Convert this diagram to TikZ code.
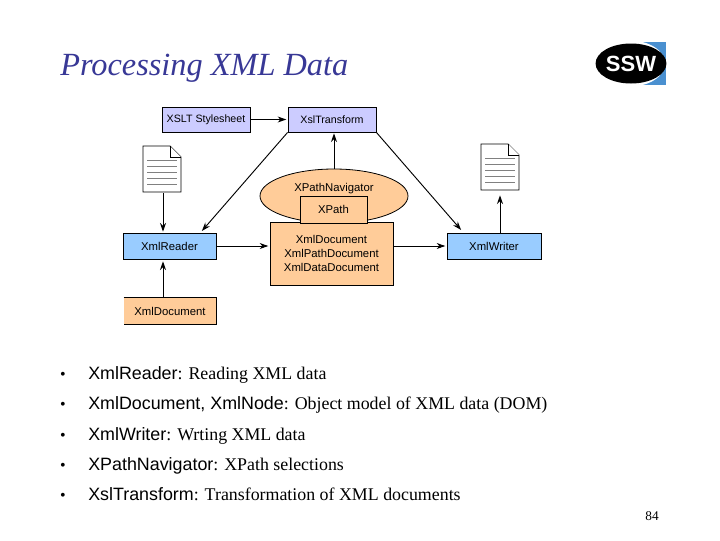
\documentclass[tikz,border=0pt]{standalone}
\usepackage{fontspec}
\setmainfont{Liberation Serif}
\setsansfont{Liberation Sans}
\usetikzlibrary{arrows.meta}
\usetikzlibrary{calc}
\usetikzlibrary{shapes.geometric}
\definecolor{lilac}{RGB}{204,204,255}
\definecolor{skyblue}{RGB}{153,204,255}
\definecolor{peach}{RGB}{255,204,153}
\definecolor{logoblue}{RGB}{74,144,208}
\definecolor{titleblue}{RGB}{56,56,150}
\tikzset{
    box/.style={draw=black, line width=0.6pt, inner sep=0pt, font=\sffamily\fontsize{8.5pt}{10.5pt}\selectfont, align=center},
    topbox/.style={box, fill=lilac, minimum width=66pt, minimum height=18.75pt, font=\sffamily\fontsize{8pt}{10.5pt}\selectfont},
    entry/.style={anchor=base west, inner sep=0pt, font=\fontsize{13.4pt}{16pt}\selectfont},
    bullet/.style={anchor=base, inner sep=0pt, font=\fontsize{12pt}{14pt}\selectfont},
    link/.style={->, line width=0.7pt, shorten >=1pt},
    page/.style={draw=black, fill=white, line width=0.6pt},
    rule/.style={line width=0.5pt, draw=black!50}
}
% sheet with a folded corner, x y are its top left corner
\newcommand{\sheet}[3]{
    \coordinate (#1) at (#2, #3);
    \draw[page] (#1) -- ++(27, 0) -- ++(11, 11) -- ++(0, 35) -- ++(-38, 0) -- cycle;
    \draw[page] ($(#1)+(27, 0)$) -- ++(0, 11) -- ++(11, 0);
    \foreach \y in {14, 20, 26, 32, 38}
        \draw[rule] ($(#1)+(4, \y)$) -- ++(30, 0);
}
\begin{document}
\begin{tikzpicture}[x=0.75pt, y=-0.75pt, >={Stealth[length=6.5pt, width=4.5pt]}]
    \useasboundingbox (0, 0) rectangle (720, 540);

    \node[anchor=base west, inner sep=0pt, text=titleblue, font=\itshape\fontsize{24.25pt}{28pt}\selectfont] (title) at (60, 75) {Processing XML Data};

    % logo
    \fill[logoblue] (640, 42) rectangle (666, 85);
    \fill[white] (630, 63.5) ellipse [x radius=35, y radius=23];
    \node[ellipse, fill=black, minimum width=46.5pt, minimum height=30pt, inner sep=0pt, text=white, font=\sffamily\bfseries\fontsize{16.5pt}{18pt}\selectfont] (logo) at (631, 63.5) {SSW};

    \node[topbox] (stylesheet) at (206, 119.5) {XSLT Stylesheet};
    \node[topbox] (transform) at (332, 119.5) {XslTransform};
    \node[box, fill=skyblue, minimum width=69.75pt, minimum height=19.5pt] (reader) at (169.5, 246) {XmlReader};
    \node[box, fill=skyblue, minimum width=70.5pt, minimum height=19.5pt] (writer) at (494, 246) {XmlWriter};
    \node[box, draw=none, fill=peach, minimum width=69pt, minimum height=19.5pt] (source) at (170, 311) {XmlDocument};
    \draw[line width=0.6pt] (source.north west) -- (source.north east) -- (source.south east) -- (source.south west);
    \node[box, ellipse, fill=peach, minimum width=111pt, minimum height=40.5pt] (navigator) at (334, 196) {};
    \node[box, draw=none] (navlabel) at (334, 189) {XPathNavigator};
    \node[box, fill=peach, minimum width=92.25pt, minimum height=47.25pt] (store) at (331.5, 253.5) {XmlDocument\\XmlPathDocument\\XmlDataDocument};
    \node[box, fill=peach, minimum width=50.25pt, minimum height=20.25pt] (xpath) at (333.5, 209.5) {XPath};

    \sheet{leftdoc}{143}{146}
    \sheet{rightdoc}{481}{144}

    \coordinate (leftdocin) at (163, 193);
    \coordinate (readertop) at (163, 233);
    \coordinate (readerbot) at (163, 260);
    \coordinate (sourcetop) at (163, 298);
    \coordinate (readerhit) at (201, 232);
    \coordinate (writerhit) at (462, 231);
    \coordinate (writertop) at (500, 233);
    \coordinate (rightdocout) at (500, 194);
    \coordinate (navtop) at (334, 169);
    \coordinate (transbot) at (334, 132);

    \draw[link] (stylesheet) -- (transform);
    \draw[link] (transform.south west) -- (readerhit);
    \draw[link] (transform.south east) -- (writerhit);
    \draw[link] (navtop) -- (transbot);
    \draw[link] (leftdocin) -- (readertop);
    \draw[link] (sourcetop) -- (readerbot);
    \draw[link] (reader) -- (reader -| store.west);
    \draw[link] (writer -| store.east) -- (writer);
    \draw[link] (writertop) -- (rightdocout);

    \foreach \y/\lab/\txt [count=\i] in {
        379/XmlReader/Reading XML data,
        409/{XmlDocument, XmlNode}/Object model of XML data (DOM),
        440/XmlWriter/Wrting XML data,
        470/XPathNavigator/XPath selections,
        500/XslTransform/Transformation of XML documents} {
        \node[bullet] (dot\i) at (63, \y) {•};
        \node[entry] (item\i) at (88, \y) {{\sffamily\lab}: \txt};
    }

    \node[anchor=base east, inner sep=0pt, font=\fontsize{10pt}{12pt}\selectfont] (pageno) at (659, 520) {84};
\end{tikzpicture}
\end{document}
